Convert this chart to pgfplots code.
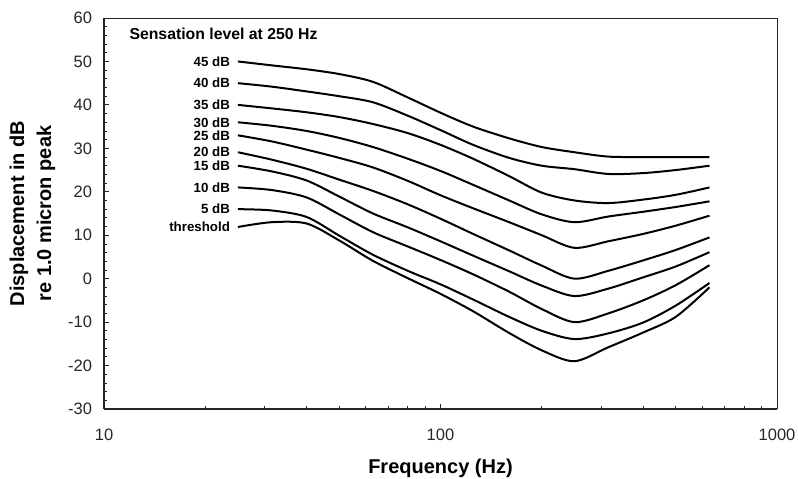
\documentclass[border=0pt]{standalone}
\usepackage{pgfplots}
\usepackage{pgfplotstable}
\pgfplotsset{compat=1.18}
\usepackage{fontspec}
\setmainfont{Liberation Sans}

% Equal-sensation contours: displacement (dB re 1.0 micron peak) vs frequency
\pgfplotstableread{
f     l0     l5     l10    l15    l20    l25    l30    l35    l40    l45
25    11.9   16.0   21.0   26.0   29.1   33.0   36.0   40.0   45.0   50.0
31.5  13.0   15.7   20.4   24.7   27.4   31.6   35.2   39.2   44.2   49.1
40    12.7   14.2   18.7   22.6   25.3   29.7   34.0   38.3   43.1   48.2
50    8.8    9.9    14.8   18.9   22.8   27.8   32.4   37.2   42.0   47.1
63    4.1    5.5    10.7   15.0   20.2   25.6   30.3   35.6   40.6   45.3
80    0.1    1.8    7.4    11.8   17.1   22.5   27.6   33.5   37.5   41.7
100   -3.5   -1.3   4.3    8.6    13.8   19.2   24.8   30.8   34.2   38.2
125   -7.5   -4.8   1.0    5.3    10.3   16.2   21.6   27.6   30.8   35.0
160   -12.5  -8.8   -3.0   1.7    6.5    13.0   18.0   23.6   27.8   32.3
200   -16.5  -12.0  -7.0   -1.6   3.0    10.0   14.8   19.8   26.0   30.3
250   -19.0  -13.9  -10.0  -4.0   0.0    7.1    13.0   18.0   25.2   29.1
315   -15.8  -12.6  -8.0   -2.3   1.8    8.6    14.3   17.4   24.1   28.1
400   -12.4  -10.1  -5.0   0.3    4.2    10.3   15.4   18.2   24.3   28.0
500   -8.8   -6.2   -1.5   2.8    6.6    12.2   16.5   19.3   25.0   28.0
630   -2.0   -1.0   3.1    6.1    9.5    14.5   17.8   21.0   26.0   28.0
}\contours

\tikzset{
  curvelabel/.style={anchor=east, xshift=-7bp, inner sep=0pt, text=black,
    font=\bfseries\fontsize{13.3bp}{16bp}\selectfont},
}

\begin{document}
\begin{tikzpicture}
\path[use as bounding box] (-104bp,-70bp) rectangle (694bp,409bp);
\begin{axis}[
  at={(0,0)}, anchor=south west,
  scale only axis, width=673bp, height=391bp,
  xmode=log, xmin=10, xmax=1000, ymin=-30, ymax=60,
  axis x line*=bottom, axis y line*=left,
  axis line style={line width=1.4bp, draw=black!85},
  xtick={10,100,1000}, xticklabels={10,100,1000},
  minor xtick={20,30,...,90,200,300,...,900},
  ytick={-30,-20,...,60}, minor y tick num=4,
  tick align=inside,
  major tick length=5bp, minor tick length=3.5bp,
  tick style={line width=0.8bp, draw=black!85},
  /pgf/number format/assume math mode=true,
  ticklabel style={font=\fontsize{16.5bp}{19bp}\selectfont, text=black!85},
  xticklabel style={yshift=-16bp},
  yticklabel style={xshift=-8.5bp},
  xlabel={Frequency (Hz)},
  xlabel style={at={(rel axis cs:0.5,0)}, anchor=center, yshift=-59bp,
    font=\bfseries\fontsize{20bp}{24bp}\selectfont},
  ylabel={Displacement in dB\\re 1.0 micron peak},
  ylabel style={at={(rel axis cs:0,0.5)}, anchor=center, yshift=71.5bp,
    align=center, font=\bfseries\fontsize{20bp}{27bp}\selectfont},
  cycle list={{black, solid}},
  every axis plot post/.append style={black, solid, line width=2bp, smooth, no marks},
  clip=false,
]
\addplot table[x=f, y=l45] {\contours} node[pos=0, curvelabel] {45 dB};
\addplot table[x=f, y=l40] {\contours} node[pos=0, curvelabel] {40 dB};
\addplot table[x=f, y=l35] {\contours} node[pos=0, curvelabel] {35 dB};
\addplot table[x=f, y=l30] {\contours} node[pos=0, curvelabel] {30 dB};
\addplot table[x=f, y=l25] {\contours} node[pos=0, curvelabel] {25 dB};
\addplot table[x=f, y=l20] {\contours} node[pos=0, curvelabel] {20 dB};
\addplot table[x=f, y=l15] {\contours} node[pos=0, curvelabel] {15 dB};
\addplot table[x=f, y=l10] {\contours} node[pos=0, curvelabel] {10 dB};
\addplot table[x=f, y=l5]  {\contours} node[pos=0, curvelabel] {5 dB};
\addplot table[x=f, y=l0]  {\contours} node[pos=0, curvelabel] {threshold};
% thin top and right frame lines
\draw[line width=1bp, black!85] (rel axis cs:0,1) -- (rel axis cs:1,1) -- (rel axis cs:1,0);
\node[anchor=west, inner sep=0pt, font=\bfseries\fontsize{15.8bp}{19bp}\selectfont]
  at ([xshift=25.3bp, yshift=-16bp]rel axis cs:0,1) {Sensation level at 250 Hz};
\end{axis}
\end{tikzpicture}
\end{document}
